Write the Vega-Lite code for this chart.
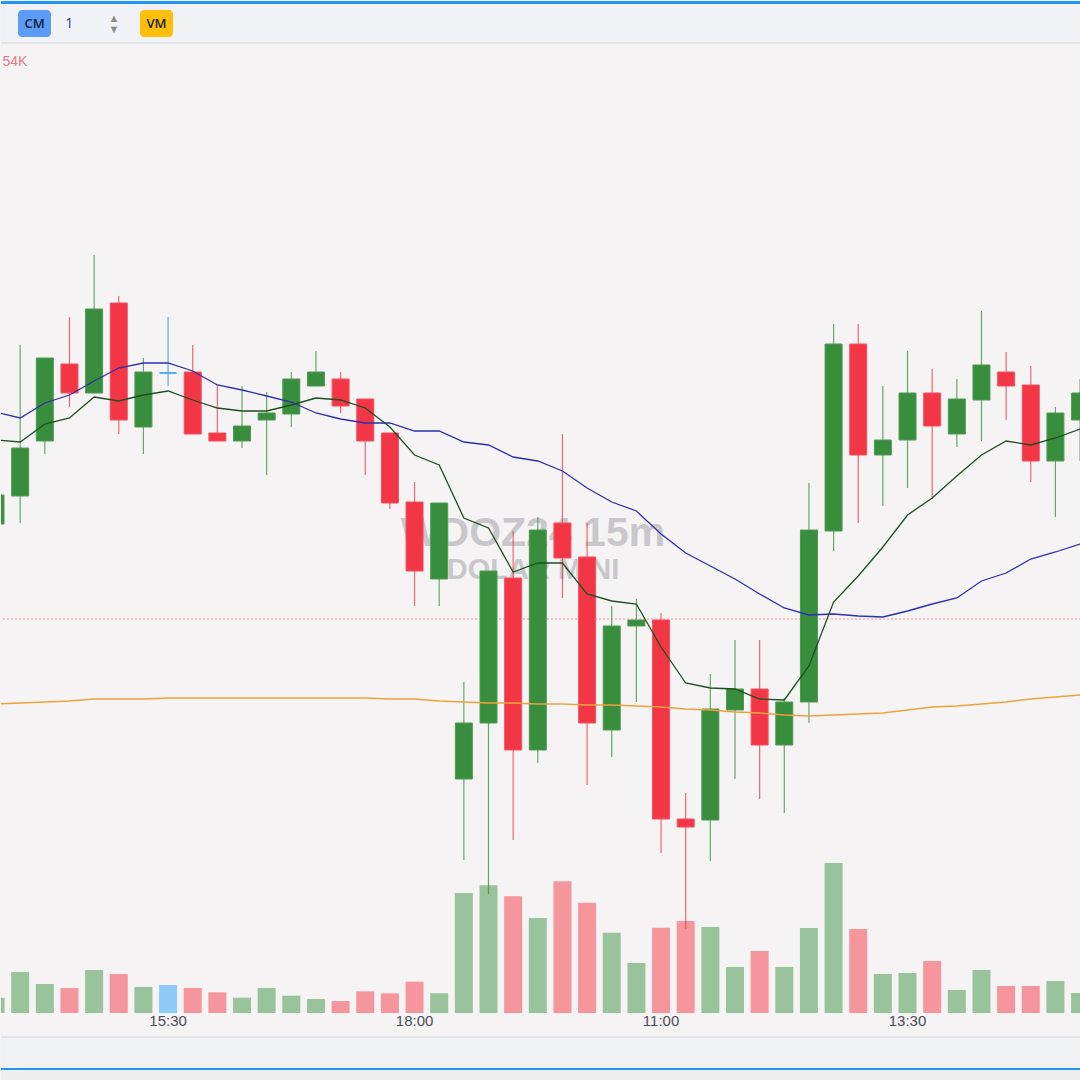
{
  "$schema": "https://vega.github.io/schema/vega-lite/v6.json",
  "background": "#f5f3f4",
  "padding": 0,
  "spacing": 0,
  "bounds": "flush",
  "config": {"view": {"stroke": null}, "font": "Liberation Sans"},
  "datasets": {
    "candles": [
      {"t": "2024-11-21 13:45", "o": 5847.7, "h": 5851.5, "l": 5846.5, "c": 5850.6, "v": 1530, "ma9": 5856.1, "ma21": 5858.9, "ma200": 5829.7},
      {"t": "2024-11-21 14:00", "o": 5850.5, "h": 5865.6, "l": 5847.8, "c": 5855.3, "v": 4100, "ma9": 5855.9, "ma21": 5858.3, "ma200": 5829.8},
      {"t": "2024-11-21 14:15", "o": 5856.0, "h": 5864.3, "l": 5854.7, "c": 5864.3, "v": 2900, "ma9": 5857.7, "ma21": 5859.8, "ma200": 5829.9},
      {"t": "2024-11-21 14:30", "o": 5863.7, "h": 5868.4, "l": 5859.4, "c": 5860.8, "v": 2500, "ma9": 5858.3, "ma21": 5860.6, "ma200": 5830.0},
      {"t": "2024-11-21 14:45", "o": 5860.8, "h": 5874.6, "l": 5860.8, "c": 5869.2, "v": 4300, "ma9": 5860.4, "ma21": 5862.0, "ma200": 5830.2},
      {"t": "2024-11-21 15:00", "o": 5869.8, "h": 5870.5, "l": 5856.7, "c": 5858.1, "v": 3900, "ma9": 5860.0, "ma21": 5863.3, "ma200": 5830.2},
      {"t": "2024-11-21 15:15", "o": 5857.4, "h": 5864.3, "l": 5854.7, "c": 5862.9, "v": 2600, "ma9": 5860.6, "ma21": 5863.8, "ma200": 5830.2},
      {"t": "2024-11-21 15:30", "o": 5862.8, "h": 5868.4, "l": 5861.5, "c": 5862.8, "v": 2800, "ma9": 5861.0, "ma21": 5863.8, "ma200": 5830.3},
      {"t": "2024-11-21 15:45", "o": 5862.9, "h": 5865.6, "l": 5856.7, "c": 5856.7, "v": 2500, "ma9": 5860.1, "ma21": 5863.0, "ma200": 5830.3},
      {"t": "2024-11-21 16:00", "o": 5856.8, "h": 5861.6, "l": 5856.0, "c": 5856.0, "v": 2070, "ma9": 5859.3, "ma21": 5861.6, "ma200": 5830.3},
      {"t": "2024-11-21 16:15", "o": 5856.0, "h": 5861.5, "l": 5855.3, "c": 5857.5, "v": 1530, "ma9": 5859.0, "ma21": 5861.1, "ma200": 5830.3},
      {"t": "2024-11-21 16:30", "o": 5858.1, "h": 5860.9, "l": 5852.6, "c": 5858.8, "v": 2500, "ma9": 5859.0, "ma21": 5860.5, "ma200": 5830.3},
      {"t": "2024-11-21 16:45", "o": 5858.7, "h": 5862.9, "l": 5857.4, "c": 5862.2, "v": 1730, "ma9": 5859.6, "ma21": 5859.9, "ma200": 5830.3},
      {"t": "2024-11-21 17:00", "o": 5861.5, "h": 5865.0, "l": 5861.5, "c": 5862.9, "v": 1400, "ma9": 5860.3, "ma21": 5858.8, "ma200": 5830.3},
      {"t": "2024-11-21 17:15", "o": 5862.2, "h": 5862.9, "l": 5858.8, "c": 5859.5, "v": 1200, "ma9": 5860.1, "ma21": 5858.2, "ma200": 5830.3},
      {"t": "2024-11-21 17:30", "o": 5860.2, "h": 5860.2, "l": 5852.6, "c": 5856.0, "v": 2170, "ma9": 5859.3, "ma21": 5857.8, "ma200": 5830.3},
      {"t": "2024-11-21 17:45", "o": 5856.8, "h": 5856.8, "l": 5849.2, "c": 5849.8, "v": 1970, "ma9": 5857.4, "ma21": 5857.8, "ma200": 5830.2},
      {"t": "2024-11-21 18:00", "o": 5849.9, "h": 5851.9, "l": 5839.5, "c": 5843.0, "v": 3130, "ma9": 5854.6, "ma21": 5857.0, "ma200": 5830.2},
      {"t": "2024-11-21 18:15", "o": 5842.2, "h": 5849.8, "l": 5839.5, "c": 5849.8, "v": 1970, "ma9": 5853.6, "ma21": 5857.0, "ma200": 5830.0},
      {"t": "2024-11-22 09:00", "o": 5822.2, "h": 5831.9, "l": 5814.1, "c": 5827.8, "v": 12000, "ma9": 5848.3, "ma21": 5855.9, "ma200": 5829.9},
      {"t": "2024-11-22 09:15", "o": 5827.8, "h": 5843.0, "l": 5810.7, "c": 5843.0, "v": 12770, "ma9": 5847.3, "ma21": 5855.6, "ma200": 5829.8},
      {"t": "2024-11-22 09:30", "o": 5842.3, "h": 5847.0, "l": 5816.1, "c": 5825.1, "v": 11670, "ma9": 5842.9, "ma21": 5854.4, "ma200": 5829.8},
      {"t": "2024-11-22 09:45", "o": 5825.1, "h": 5848.4, "l": 5823.8, "c": 5847.1, "v": 9500, "ma9": 5843.8, "ma21": 5854.0, "ma200": 5829.7},
      {"t": "2024-11-22 10:00", "o": 5847.8, "h": 5856.7, "l": 5840.3, "c": 5844.3, "v": 13170, "ma9": 5843.8, "ma21": 5853.0, "ma200": 5829.7},
      {"t": "2024-11-22 10:15", "o": 5844.4, "h": 5847.8, "l": 5821.6, "c": 5827.8, "v": 11030, "ma9": 5840.7, "ma21": 5851.3, "ma200": 5829.6},
      {"t": "2024-11-22 10:30", "o": 5827.1, "h": 5839.5, "l": 5824.4, "c": 5837.5, "v": 8030, "ma9": 5840.0, "ma21": 5849.9, "ma200": 5829.6},
      {"t": "2024-11-22 10:45", "o": 5837.5, "h": 5840.2, "l": 5829.9, "c": 5838.1, "v": 5000, "ma9": 5839.7, "ma21": 5849.0, "ma200": 5829.5},
      {"t": "2024-11-22 11:00", "o": 5838.1, "h": 5838.8, "l": 5814.8, "c": 5818.2, "v": 8530, "ma9": 5835.4, "ma21": 5846.7, "ma200": 5829.4},
      {"t": "2024-11-22 11:15", "o": 5818.2, "h": 5820.8, "l": 5807.2, "c": 5817.4, "v": 9200, "ma9": 5831.8, "ma21": 5844.8, "ma200": 5829.2},
      {"t": "2024-11-22 11:30", "o": 5818.1, "h": 5832.7, "l": 5814.0, "c": 5829.2, "v": 8600, "ma9": 5831.3, "ma21": 5843.5, "ma200": 5829.1},
      {"t": "2024-11-22 11:45", "o": 5829.1, "h": 5836.1, "l": 5822.2, "c": 5831.2, "v": 4600, "ma9": 5831.2, "ma21": 5842.2, "ma200": 5828.9},
      {"t": "2024-11-22 12:00", "o": 5831.2, "h": 5836.1, "l": 5820.2, "c": 5825.6, "v": 6200, "ma9": 5830.2, "ma21": 5840.7, "ma200": 5828.8},
      {"t": "2024-11-22 12:15", "o": 5825.6, "h": 5830.3, "l": 5818.8, "c": 5829.9, "v": 4600, "ma9": 5830.1, "ma21": 5839.3, "ma200": 5828.6},
      {"t": "2024-11-22 12:30", "o": 5829.9, "h": 5851.8, "l": 5827.8, "c": 5847.1, "v": 8500, "ma9": 5833.5, "ma21": 5838.6, "ma200": 5828.5},
      {"t": "2024-11-22 12:45", "o": 5847.0, "h": 5867.7, "l": 5845.0, "c": 5865.7, "v": 15000, "ma9": 5839.9, "ma21": 5838.7, "ma200": 5828.6},
      {"t": "2024-11-22 13:00", "o": 5865.7, "h": 5867.7, "l": 5847.8, "c": 5854.6, "v": 8400, "ma9": 5842.5, "ma21": 5838.5, "ma200": 5828.7},
      {"t": "2024-11-22 13:15", "o": 5854.6, "h": 5861.5, "l": 5849.5, "c": 5856.1, "v": 3900, "ma9": 5845.4, "ma21": 5838.4, "ma200": 5828.8},
      {"t": "2024-11-22 13:30", "o": 5856.1, "h": 5865.0, "l": 5851.3, "c": 5860.8, "v": 4000, "ma9": 5848.6, "ma21": 5839.0, "ma200": 5829.1},
      {"t": "2024-11-22 13:45", "o": 5860.8, "h": 5863.2, "l": 5850.2, "c": 5857.5, "v": 5200, "ma9": 5850.3, "ma21": 5839.7, "ma200": 5829.4},
      {"t": "2024-11-22 14:00", "o": 5856.7, "h": 5862.2, "l": 5855.4, "c": 5860.2, "v": 2300, "ma9": 5852.5, "ma21": 5840.3, "ma200": 5829.5},
      {"t": "2024-11-22 14:15", "o": 5860.1, "h": 5869.0, "l": 5856.0, "c": 5863.6, "v": 4300, "ma9": 5854.6, "ma21": 5842.0, "ma200": 5829.7},
      {"t": "2024-11-22 14:30", "o": 5862.9, "h": 5864.9, "l": 5858.1, "c": 5861.5, "v": 2700, "ma9": 5856.0, "ma21": 5842.8, "ma200": 5829.9},
      {"t": "2024-11-22 14:45", "o": 5861.6, "h": 5863.5, "l": 5851.9, "c": 5854.0, "v": 2700, "ma9": 5855.6, "ma21": 5844.2, "ma200": 5830.2},
      {"t": "2024-11-22 15:00", "o": 5854.0, "h": 5859.4, "l": 5848.4, "c": 5858.8, "v": 3200, "ma9": 5856.3, "ma21": 5844.9, "ma200": 5830.4},
      {"t": "2024-11-22 15:15", "o": 5858.1, "h": 5862.2, "l": 5854.0, "c": 5860.8, "v": 2000, "ma9": 5857.2, "ma21": 5845.7, "ma200": 5830.6}
    ],
    "toolbar": [
      {"item": "CM", "label": "CM"},
      {"item": "1", "label": "1"},
      {"item": "spin", "label": ""},
      {"item": "VM", "label": "VM"}
    ]
  },
  "vconcat": [
    {"width": 1080, "height": 3, "view": {"fill": "#2196f3", "stroke": null}, "data": {"values": [{}]}, "mark": "rule", "encoding": {}},
    {"width": 1080, "height": 6, "view": {"fill": "#f1f2f6", "stroke": null}, "data": {"values": [{}]}, "mark": "rule", "encoding": {}},
    {
      "width": 1080, "height": 27,
      "view": {"fill": "#f1f2f6", "stroke": null},
      "data": {"name": "toolbar"},
      "encoding": {
        "x": {"field": "item", "type": "nominal", "scale": {"type": "point", "domain": ["CM", "1", "spin", "VM"], "range": [33.5, 155.5], "padding": 0}, "axis": null}
      },
      "layer": [
        {
          "transform": [{"filter": "datum.item === 'CM' || datum.item === 'VM'"}],
          "mark": {"type": "bar", "width": 33, "cornerRadius": 4},
          "encoding": {
            "color": {"field": "item", "type": "nominal", "scale": {"domain": ["CM", "VM"], "range": ["#5b9cf6", "#ffbf0a"]}, "legend": null}
          }
        },
        {
          "transform": [{"filter": "datum.item === 'CM' || datum.item === 'VM'"}],
          "mark": {"type": "text", "fontSize": 13, "fontWeight": 600, "color": "#14213a", "font": "Open Sans"},
          "encoding": {"text": {"field": "label"}}
        },
        {
          "transform": [{"filter": "datum.item === '1'"}],
          "mark": {"type": "text", "fontSize": 14, "align": "left", "dx": -10, "color": "#23408e", "font": "Open Sans"},
          "encoding": {"text": {"field": "label"}}
        },
        {
          "transform": [{"filter": "datum.item === 'spin'"}],
          "mark": {"type": "text", "fontSize": 11, "dx": -2, "dy": -5, "color": "#8c8c8c", "text": "▲"}
        },
        {
          "transform": [{"filter": "datum.item === 'spin'"}],
          "mark": {"type": "text", "fontSize": 11, "dx": -2, "dy": 6, "color": "#8c8c8c", "text": "▼"}
        }
      ]
    },
    {"width": 1080, "height": 5, "view": {"fill": "#f1f2f6", "stroke": null}, "data": {"values": [{}]}, "mark": "rule", "encoding": {}},
    {"width": 1080, "height": 2, "view": {"fill": "#e1e3e7", "stroke": null}, "data": {"values": [{}]}, "mark": "rule", "encoding": {}},
    {
      "width": 1080, "height": 969,
      "view": {"fill": "#f5f3f4", "stroke": null},
      "title": {"text": "54K", "anchor": "start", "orient": "top", "offset": -35.5, "baseline": "alphabetic", "fontSize": 14, "fontWeight": "normal", "color": "#e27b88", "font": "Liberation Sans", "dx": 2},
      "resolve": {"scale": {"y": "independent"}},
      "layer": [
        {
          "data": {"values": [{"label": "WDOZ24 15m"}]},
          "mark": {"type": "text", "fontSize": 41, "fontWeight": "bold", "font": "Liberation Sans", "color": "#c9c7cb", "baseline": "alphabetic", "dx": -8, "dy": 17.5},
          "encoding": {"text": {"field": "label"}}
        },
        {
          "data": {"values": [{"label": "DOLAR MINI"}]},
          "mark": {"type": "text", "fontSize": 29, "fontWeight": "bold", "font": "Liberation Sans", "color": "#c9c7cb", "baseline": "alphabetic", "dx": -8, "dy": 50.5},
          "encoding": {"text": {"field": "label"}}
        },
        {
          "data": {"name": "candles"},
          "mark": {"type": "bar", "size": 18, "clip": true},
          "encoding": {
            "x": {"field": "t", "type": "ordinal", "scale": {"type": "band", "range": [-17.8, 1091.4], "paddingInner": 0, "paddingOuter": 0}, "axis": {"values": ["2024-11-21 15:30", "2024-11-21 18:00", "2024-11-22 11:00", "2024-11-22 13:30"], "labelExpr": "substring(datum.label, 11, 16)", "ticks": false, "domain": false, "grid": false, "title": null, "labelAngle": 0, "labelPadding": 0, "labelFont": "Liberation Sans", "labelFontSize": 15, "labelColor": "#4e4d55", "labelOverlap": false, "labelFlush": false}},
            "y": {"field": "v", "type": "quantitative", "scale": {"domain": [0, 96900], "nice": false}, "axis": null},
            "color": {"condition": [{"test": "datum.c > datum.o", "value": "#99c49b"}, {"test": "datum.c < datum.o", "value": "#f5959c"}], "value": "#8ecbf6"}
          }
        },
        {
          "data": {"values": [{"ref": 5838.2}]},
          "mark": {"type": "rule", "color": "#f28b97", "strokeDash": [2, 2], "strokeWidth": 1},
          "encoding": {
            "y": {"field": "ref", "type": "quantitative", "scale": {"domain": [5798.8, 5895.7], "zero": false, "nice": false}, "axis": null}
          }
        },
        {
          "data": {"name": "candles"},
          "mark": {"type": "rule", "strokeWidth": 1.2, "opacity": 0.75, "clip": true},
          "encoding": {
            "x": {"field": "t", "type": "ordinal", "scale": {"type": "band", "range": [-17.8, 1091.4], "paddingInner": 0, "paddingOuter": 0}, "axis": {"values": ["2024-11-21 15:30", "2024-11-21 18:00", "2024-11-22 11:00", "2024-11-22 13:30"], "labelExpr": "substring(datum.label, 11, 16)", "ticks": false, "domain": false, "grid": false, "title": null, "labelAngle": 0, "labelPadding": 0, "labelFont": "Liberation Sans", "labelFontSize": 15, "labelColor": "#4e4d55", "labelOverlap": false, "labelFlush": false}},
            "y": {"field": "l", "type": "quantitative", "scale": {"domain": [5798.8, 5895.7], "zero": false, "nice": false}, "axis": null},
            "y2": {"field": "h"},
            "color": {"condition": [{"test": "datum.c > datum.o", "value": "#388e3c"}, {"test": "datum.c < datum.o", "value": "#f23645"}], "value": "#2196f3"}
          }
        },
        {
          "data": {"name": "candles"},
          "mark": {"type": "bar", "size": 17, "strokeWidth": 1, "clip": true},
          "encoding": {
            "x": {"field": "t", "type": "ordinal", "scale": {"type": "band", "range": [-17.8, 1091.4], "paddingInner": 0, "paddingOuter": 0}, "axis": {"values": ["2024-11-21 15:30", "2024-11-21 18:00", "2024-11-22 11:00", "2024-11-22 13:30"], "labelExpr": "substring(datum.label, 11, 16)", "ticks": false, "domain": false, "grid": false, "title": null, "labelAngle": 0, "labelPadding": 0, "labelFont": "Liberation Sans", "labelFontSize": 15, "labelColor": "#4e4d55", "labelOverlap": false, "labelFlush": false}},
            "y": {"field": "o", "type": "quantitative", "scale": {"domain": [5798.8, 5895.7], "zero": false, "nice": false}, "axis": null},
            "y2": {"field": "c"},
            "color": {"condition": [{"test": "datum.c > datum.o", "value": "#388e3c"}, {"test": "datum.c < datum.o", "value": "#f23645"}], "value": "#2196f3"},
            "stroke": {"condition": [{"test": "datum.c > datum.o", "value": "#4f9a52"}, {"test": "datum.c < datum.o", "value": "#f4515e"}], "value": "#2196f3"}
          }
        },
        {
          "data": {"name": "candles"},
          "mark": {"type": "line", "color": "#eea23c", "strokeWidth": 1.4, "clip": true},
          "encoding": {
            "x": {"field": "t", "type": "ordinal", "scale": {"type": "band", "range": [-17.8, 1091.4], "paddingInner": 0, "paddingOuter": 0}, "axis": {"values": ["2024-11-21 15:30", "2024-11-21 18:00", "2024-11-22 11:00", "2024-11-22 13:30"], "labelExpr": "substring(datum.label, 11, 16)", "ticks": false, "domain": false, "grid": false, "title": null, "labelAngle": 0, "labelPadding": 0, "labelFont": "Liberation Sans", "labelFontSize": 15, "labelColor": "#4e4d55", "labelOverlap": false, "labelFlush": false}},
            "y": {"field": "ma200", "type": "quantitative", "scale": {"domain": [5798.8, 5895.7], "zero": false, "nice": false}, "axis": null}
          }
        },
        {
          "data": {"name": "candles"},
          "mark": {"type": "line", "color": "#2e2eb0", "strokeWidth": 1.3, "clip": true},
          "encoding": {
            "x": {"field": "t", "type": "ordinal", "scale": {"type": "band", "range": [-17.8, 1091.4], "paddingInner": 0, "paddingOuter": 0}, "axis": {"values": ["2024-11-21 15:30", "2024-11-21 18:00", "2024-11-22 11:00", "2024-11-22 13:30"], "labelExpr": "substring(datum.label, 11, 16)", "ticks": false, "domain": false, "grid": false, "title": null, "labelAngle": 0, "labelPadding": 0, "labelFont": "Liberation Sans", "labelFontSize": 15, "labelColor": "#4e4d55", "labelOverlap": false, "labelFlush": false}},
            "y": {"field": "ma21", "type": "quantitative", "scale": {"domain": [5798.8, 5895.7], "zero": false, "nice": false}, "axis": null}
          }
        },
        {
          "data": {"name": "candles"},
          "mark": {"type": "line", "color": "#1d4f22", "strokeWidth": 1.3, "clip": true},
          "encoding": {
            "x": {"field": "t", "type": "ordinal", "scale": {"type": "band", "range": [-17.8, 1091.4], "paddingInner": 0, "paddingOuter": 0}, "axis": {"values": ["2024-11-21 15:30", "2024-11-21 18:00", "2024-11-22 11:00", "2024-11-22 13:30"], "labelExpr": "substring(datum.label, 11, 16)", "ticks": false, "domain": false, "grid": false, "title": null, "labelAngle": 0, "labelPadding": 0, "labelFont": "Liberation Sans", "labelFontSize": 15, "labelColor": "#4e4d55", "labelOverlap": false, "labelFlush": false}},
            "y": {"field": "ma9", "type": "quantitative", "scale": {"domain": [5798.8, 5895.7], "zero": false, "nice": false}, "axis": null}
          }
        }
      ]
    },
    {"width": 1080, "height": 23, "data": {"values": [{}]}, "mark": "rule", "encoding": {}},
    {"width": 1080, "height": 2, "view": {"fill": "#e1e3e7", "stroke": null}, "data": {"values": [{}]}, "mark": "rule", "encoding": {}},
    {"width": 1080, "height": 30, "view": {"fill": "#f1f2f6", "stroke": null}, "data": {"values": [{}]}, "mark": "rule", "encoding": {}},
    {"width": 1080, "height": 2, "view": {"fill": "#2196f3", "stroke": null}, "data": {"values": [{}]}, "mark": "rule", "encoding": {}},
    {"width": 1080, "height": 11, "view": {"fill": "#eeeeee", "stroke": null}, "data": {"values": [{}]}, "mark": "rule", "encoding": {}}
  ]
}
